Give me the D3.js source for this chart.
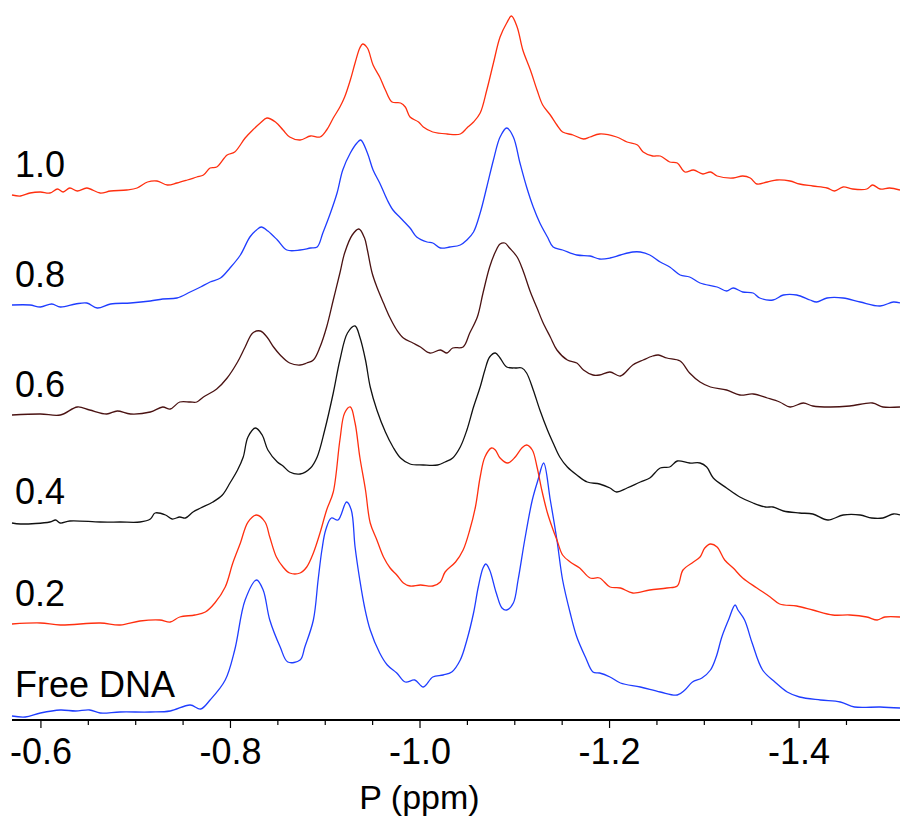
<!DOCTYPE html>
<html>
<head>
<meta charset="utf-8">
<script src="https://cdn.jsdelivr.net/npm/d3@7"></script>
<style>
  html, body { margin: 0; padding: 0; background: #fff; }
  svg { display: block; }
  text { font-family: "Liberation Sans", Arial, sans-serif; fill: #000; }
</style>
</head>
<body>
<svg id="chart" width="900" height="818"></svg>
<script>
// ---- Data: 31P NMR spectra, [ppm, intensity above own baseline] ----
const labels = ["Free DNA", "0.2", "0.4", "0.6", "0.8", "1.0"];
const offsets = [4, 96, 198, 305, 415, 525];
const colors = ["#1f3dff", "#ff2f0f", "#111111", "#4a1212", "#1f3dff", "#ff2f0f"];

const freeDNA = [[-0.570,0],[-0.584,-1],[-0.600,3],[-0.621,6],[-0.637,5],[-0.652,6],[-0.663,3],[-0.684,4],[-0.716,4],[-0.737,5],[-0.758,11],[-0.769,7],[-0.779,16],[-0.795,36],[-0.805,66],[-0.816,116],[-0.828,136],[-0.835,126],[-0.842,96],[-0.853,69],[-0.861,54],[-0.874,56],[-0.879,69],[-0.888,96],[-0.893,136],[-0.897,166],[-0.901,186],[-0.907,198],[-0.914,196],[-0.923,214],[-0.928,206],[-0.932,169],[-0.937,136],[-0.942,109],[-0.948,86],[-0.958,63],[-0.966,51],[-0.976,43],[-0.985,34],[-0.995,36],[-1.004,29],[-1.014,39],[-1.025,41],[-1.034,44],[-1.043,56],[-1.050,76],[-1.057,103],[-1.062,129],[-1.067,148],[-1.070,152],[-1.074,146],[-1.081,123],[-1.087,108],[-1.092,106],[-1.099,113],[-1.104,136],[-1.111,176],[-1.119,216],[-1.125,236],[-1.131,253],[-1.138,216],[-1.145,176],[-1.151,136],[-1.159,103],[-1.166,79],[-1.175,59],[-1.183,44],[-1.190,43],[-1.201,39],[-1.212,33],[-1.233,29],[-1.254,24],[-1.272,21],[-1.280,26],[-1.288,34],[-1.298,38],[-1.307,46],[-1.313,59],[-1.319,79],[-1.326,96],[-1.333,111],[-1.336,106],[-1.343,96],[-1.351,73],[-1.362,46],[-1.375,34],[-1.388,24],[-1.401,19],[-1.423,16],[-1.444,14],[-1.459,9],[-1.486,9],[-1.507,8]];

const ratio02 = [[-0.570,0],[-0.600,1],[-0.621,-1],[-0.663,1],[-0.684,-1],[-0.705,3],[-0.726,4],[-0.737,2],[-0.747,7],[-0.763,9],[-0.774,12],[-0.784,21],[-0.795,37],[-0.803,61],[-0.811,81],[-0.819,102],[-0.828,109],[-0.837,102],[-0.842,87],[-0.849,67],[-0.856,57],[-0.863,51],[-0.874,51],[-0.881,57],[-0.888,71],[-0.895,91],[-0.902,114],[-0.909,132],[-0.916,184],[-0.921,211],[-0.927,217],[-0.932,201],[-0.937,167],[-0.943,134],[-0.948,101],[-0.955,84],[-0.962,67],[-0.969,56],[-0.976,49],[-0.983,41],[-0.990,38],[-1.001,39],[-1.014,38],[-1.022,42],[-1.027,52],[-1.038,62],[-1.046,74],[-1.053,94],[-1.059,117],[-1.064,147],[-1.069,167],[-1.076,176],[-1.080,174],[-1.085,166],[-1.093,161],[-1.101,167],[-1.108,176],[-1.113,179],[-1.119,174],[-1.124,157],[-1.129,134],[-1.135,111],[-1.141,94],[-1.145,84],[-1.151,69],[-1.159,62],[-1.169,56],[-1.180,46],[-1.190,46],[-1.201,37],[-1.212,36],[-1.225,31],[-1.243,34],[-1.261,36],[-1.272,38],[-1.278,54],[-1.289,62],[-1.296,67],[-1.301,76],[-1.307,80],[-1.314,77],[-1.322,64],[-1.331,56],[-1.341,46],[-1.356,36],[-1.370,27],[-1.380,20],[-1.398,18],[-1.415,14],[-1.436,9],[-1.454,9],[-1.472,7],[-1.483,4],[-1.491,7],[-1.507,7]];

const ratio04 = [[-0.570,-1],[-0.579,-2],[-0.610,0],[-0.616,2],[-0.621,-1],[-0.631,1],[-0.663,0],[-0.684,0],[-0.705,0],[-0.716,3],[-0.721,9],[-0.732,7],[-0.739,3],[-0.747,5],[-0.753,4],[-0.761,10],[-0.769,14],[-0.782,20],[-0.792,27],[-0.800,39],[-0.808,52],[-0.814,65],[-0.819,85],[-0.827,94],[-0.834,87],[-0.840,72],[-0.850,60],[-0.856,56],[-0.863,50],[-0.874,48],[-0.885,54],[-0.892,65],[-0.900,92],[-0.909,129],[-0.916,162],[-0.924,189],[-0.932,196],[-0.937,185],[-0.943,162],[-0.948,135],[-0.955,112],[-0.964,90],[-0.972,75],[-0.980,64],[-0.990,58],[-1.004,57],[-1.019,57],[-1.027,60],[-1.035,64],[-1.043,75],[-1.050,92],[-1.057,115],[-1.064,135],[-1.069,152],[-1.074,165],[-1.080,169],[-1.085,164],[-1.092,155],[-1.101,154],[-1.108,154],[-1.113,149],[-1.120,132],[-1.127,112],[-1.135,92],[-1.141,79],[-1.148,65],[-1.156,55],[-1.166,47],[-1.177,40],[-1.190,38],[-1.201,34],[-1.208,30],[-1.219,34],[-1.233,40],[-1.243,44],[-1.254,54],[-1.264,55],[-1.272,61],[-1.285,59],[-1.296,59],[-1.303,55],[-1.310,44],[-1.324,34],[-1.338,25],[-1.352,19],[-1.365,15],[-1.373,15],[-1.384,11],[-1.401,9],[-1.415,8],[-1.431,2],[-1.447,7],[-1.465,7],[-1.477,4],[-1.489,4],[-1.500,8],[-1.507,7]];

const ratio06 = [[-0.570,0],[-0.600,1],[-0.621,0],[-0.639,8],[-0.652,5],[-0.670,1],[-0.681,4],[-0.695,1],[-0.716,3],[-0.729,8],[-0.737,6],[-0.747,13],[-0.758,13],[-0.765,13],[-0.772,18],[-0.786,26],[-0.797,37],[-0.808,53],[-0.816,68],[-0.824,82],[-0.832,84],[-0.839,78],[-0.846,68],[-0.853,60],[-0.863,52],[-0.874,50],[-0.881,52],[-0.888,55],[-0.895,68],[-0.902,88],[-0.909,115],[-0.916,142],[-0.921,162],[-0.929,180],[-0.936,186],[-0.942,177],[-0.945,165],[-0.950,142],[-0.955,128],[-0.962,112],[-0.969,97],[-0.976,85],[-0.983,77],[-0.993,72],[-1.001,68],[-1.011,62],[-1.022,65],[-1.029,62],[-1.035,67],[-1.046,68],[-1.053,82],[-1.061,98],[-1.067,122],[-1.074,148],[-1.080,163],[-1.085,171],[-1.090,172],[-1.095,167],[-1.103,158],[-1.109,145],[-1.117,123],[-1.124,107],[-1.130,93],[-1.138,78],[-1.145,65],[-1.156,55],[-1.166,52],[-1.173,45],[-1.183,40],[-1.190,40],[-1.201,43],[-1.212,39],[-1.225,50],[-1.236,55],[-1.246,59],[-1.252,60],[-1.261,57],[-1.275,54],[-1.285,42],[-1.296,33],[-1.307,28],[-1.324,25],[-1.338,20],[-1.352,21],[-1.367,17],[-1.380,13],[-1.391,8],[-1.405,12],[-1.415,9],[-1.433,8],[-1.454,9],[-1.478,12],[-1.489,8],[-1.507,8]];

const ratio08 = [[-0.570,0],[-0.589,0],[-0.600,-2],[-0.612,1],[-0.621,-2],[-0.637,1],[-0.649,2],[-0.660,-3],[-0.674,1],[-0.695,2],[-0.716,4],[-0.729,6],[-0.744,7],[-0.758,13],[-0.769,18],[-0.779,23],[-0.790,27],[-0.800,37],[-0.811,50],[-0.821,68],[-0.828,75],[-0.833,78],[-0.840,74],[-0.850,65],[-0.860,55],[-0.874,55],[-0.885,57],[-0.892,58],[-0.898,72],[-0.906,92],[-0.913,112],[-0.919,135],[-0.927,152],[-0.934,162],[-0.938,165],[-0.945,152],[-0.951,135],[-0.958,122],[-0.966,105],[-0.972,95],[-0.980,87],[-0.990,77],[-0.997,68],[-1.008,63],[-1.014,62],[-1.022,57],[-1.032,58],[-1.043,60],[-1.050,65],[-1.057,73],[-1.064,92],[-1.071,118],[-1.078,145],[-1.085,168],[-1.092,177],[-1.099,168],[-1.106,142],[-1.113,118],[-1.120,98],[-1.127,82],[-1.135,68],[-1.141,58],[-1.151,55],[-1.166,50],[-1.180,49],[-1.190,46],[-1.201,47],[-1.212,50],[-1.225,53],[-1.233,53],[-1.243,50],[-1.254,43],[-1.264,38],[-1.275,30],[-1.285,28],[-1.296,22],[-1.314,18],[-1.324,14],[-1.331,17],[-1.341,13],[-1.352,12],[-1.359,7],[-1.373,5],[-1.384,10],[-1.398,10],[-1.412,5],[-1.419,3],[-1.430,7],[-1.447,7],[-1.465,3],[-1.486,-1],[-1.500,3],[-1.507,2]];

const ratio10 = [[-0.570,0],[-0.579,-1],[-0.589,2],[-0.600,3],[-0.610,2],[-0.618,6],[-0.624,3],[-0.631,7],[-0.639,4],[-0.649,7],[-0.663,2],[-0.674,4],[-0.691,5],[-0.702,7],[-0.713,13],[-0.723,14],[-0.734,10],[-0.744,12],[-0.755,15],[-0.765,18],[-0.772,20],[-0.779,27],[-0.786,28],[-0.797,40],[-0.805,43],[-0.816,57],[-0.824,65],[-0.832,72],[-0.839,77],[-0.848,73],[-0.856,65],[-0.863,58],[-0.874,55],[-0.885,59],[-0.895,58],[-0.902,65],[-0.909,77],[-0.916,88],[-0.921,98],[-0.927,115],[-0.932,132],[-0.937,147],[-0.940,151],[-0.945,147],[-0.951,130],[-0.958,118],[-0.964,105],[-0.971,93],[-0.980,92],[-0.985,88],[-0.990,78],[-0.999,73],[-1.004,68],[-1.014,63],[-1.029,61],[-1.043,61],[-1.050,67],[-1.057,73],[-1.064,82],[-1.071,105],[-1.078,132],[-1.085,158],[-1.092,172],[-1.097,179],[-1.103,168],[-1.109,145],[-1.117,125],[-1.124,105],[-1.130,90],[-1.138,80],[-1.145,70],[-1.151,63],[-1.162,60],[-1.173,56],[-1.180,58],[-1.190,61],[-1.208,58],[-1.219,53],[-1.230,50],[-1.236,43],[-1.246,39],[-1.254,39],[-1.264,33],[-1.272,32],[-1.280,23],[-1.289,25],[-1.299,21],[-1.307,23],[-1.314,19],[-1.331,17],[-1.341,19],[-1.349,17],[-1.356,11],[-1.367,13],[-1.377,15],[-1.391,14],[-1.401,11],[-1.415,9],[-1.430,7],[-1.438,4],[-1.447,8],[-1.457,6],[-1.472,6],[-1.478,10],[-1.486,6],[-1.496,7],[-1.507,5]];

const spectra = [freeDNA, ratio02, ratio04, ratio06, ratio08, ratio10];

const majorTicks = [-0.6, -0.8, -1.0, -1.2, -1.4];
const minorTicks = [-0.65, -0.7, -0.75, -0.85, -0.9, -0.95, -1.05, -1.1, -1.15, -1.25, -1.3, -1.35, -1.45];
const xDomain = [-0.570, -1.507];
const xTitle = "P (ppm)";

// ---- Drawing ----
const svg = d3.select("#chart");
const axisY = 720;
const x = d3.scaleLinear().domain(xDomain).range([12, 900]);
const y = d3.scaleLinear().domain([0, 720]).range([axisY, 0]);

const line = d3.line()
  .x(d => x(d[0]))
  .y(d => d[1])
  .curve(d3.curveCatmullRom.alpha(0.5));

spectra.forEach((s, i) => {
  const pts = s.map(p => [p[0], y(offsets[i] + p[1])]);
  svg.append("path")
    .attr("d", line(pts))
    .attr("fill", "none")
    .attr("stroke", colors[i])
    .attr("stroke-width", 1.3)
    .attr("stroke-linejoin", "round");
});

// series labels
labels.forEach((t, i) => {
  svg.append("text")
    .attr("x", 15)
    .attr("y", y(offsets[i]) - (i === 0 ? 19 : 18))
    .attr("font-size", 36)
    .text(t);
});

// x axis
const xAxis = d3.axisBottom(x)
  .tickValues(majorTicks)
  .tickSize(8)
  .tickPadding(10)
  .tickFormat(d3.format(".1f"));
const gx = svg.append("g").attr("transform", `translate(0,${axisY})`).call(xAxis);
gx.select(".domain").remove();
gx.selectAll(".tick line").attr("stroke", "#000").attr("stroke-width", 1.2);
gx.selectAll(".tick text")
  .attr("font-family", "Liberation Sans, Arial, sans-serif")
  .attr("font-size", 36)
  .attr("fill", "#000")
  .text(d => d3.format(".1f")(d).replace("\u2212", "-"));

const xMinor = d3.axisBottom(x).tickValues(minorTicks).tickSize(5).tickFormat("");
const gm = svg.append("g").attr("transform", `translate(0,${axisY})`).call(xMinor);
gm.select(".domain").remove();
gm.selectAll(".tick line").attr("stroke", "#000").attr("stroke-width", 1.2);

svg.append("line")
  .attr("x1", x(xDomain[0])).attr("x2", x(xDomain[1]))
  .attr("y1", axisY).attr("y2", axisY)
  .attr("stroke", "#000").attr("stroke-width", 2.2);

svg.append("text")
  .attr("x", x(-1.0))
  .attr("y", 809)
  .attr("text-anchor", "middle")
  .attr("font-size", 34)
  .text(xTitle);
</script>
</body>
</html>
